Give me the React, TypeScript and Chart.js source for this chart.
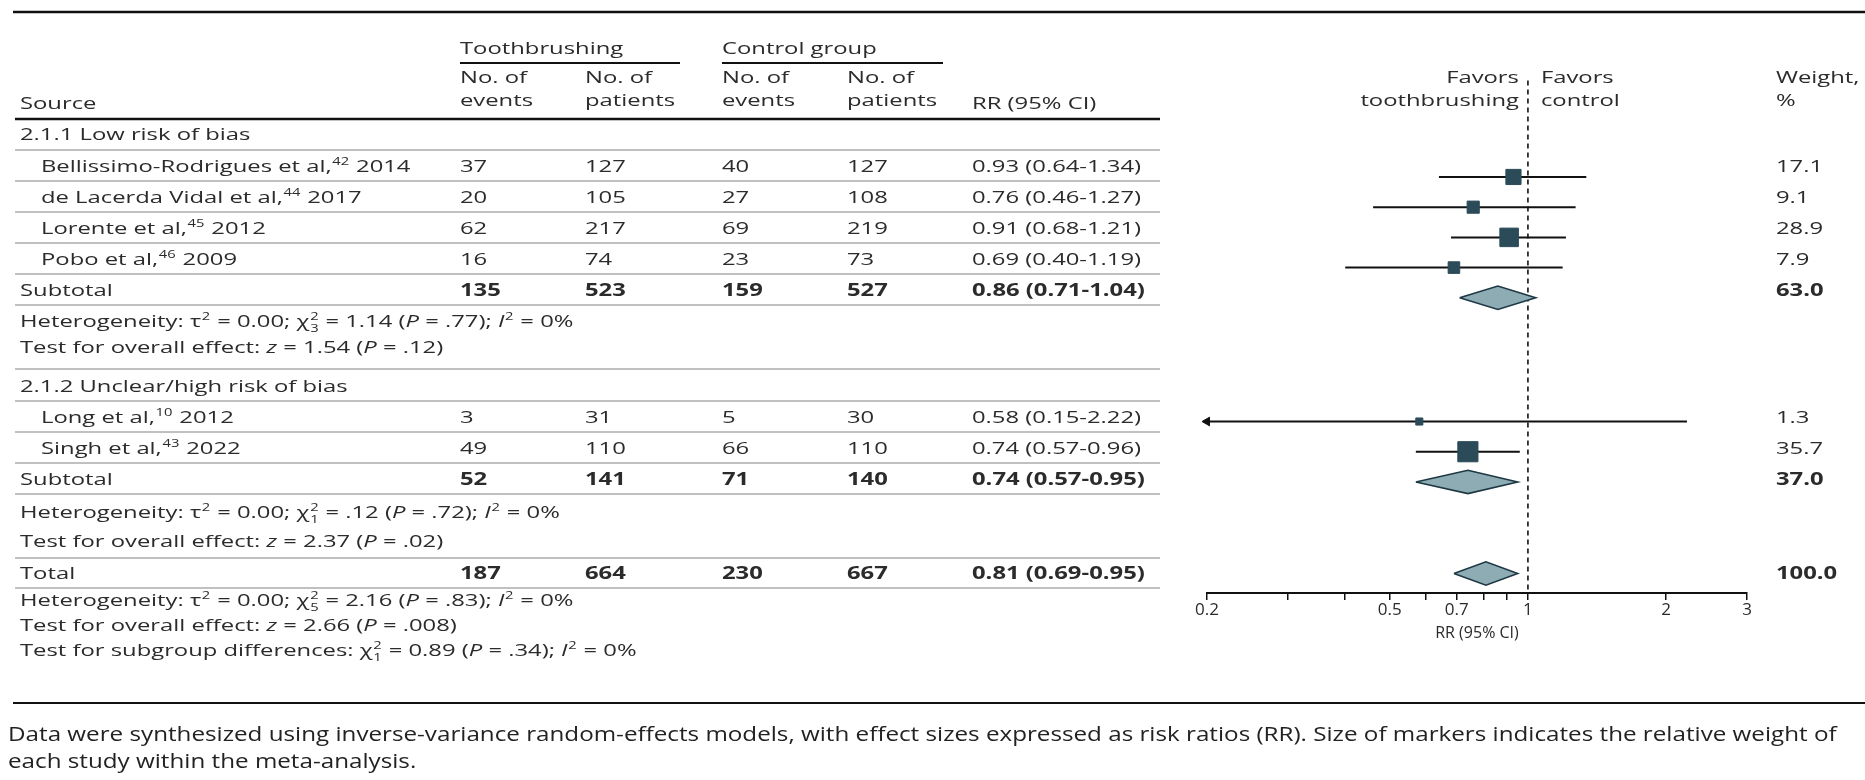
import { useEffect, useRef } from 'react';
import { Chart, registerables } from 'chart.js';

Chart.register(...registerables);

// ---------------- data ----------------
const STUDY_NAMES = ['Bellissimo-Rodrigues et al,', 'de Lacerda Vidal et al,', 'Lorente et al,', 'Pobo et al,', 'Long et al,', 'Singh et al,'];
const STUDY_REFS = ['42', '44', '45', '46', '10', '43'];
const STUDY_YEARS = ['2014', '2017', '2012', '2009', '2012', '2022'];
const STUDY_GROUP = [0, 0, 0, 0, 1, 1];
const TB_EVENTS = [37, 20, 62, 16, 3, 49];
const TB_TOTAL = [127, 105, 217, 74, 31, 110];
const CT_EVENTS = [40, 27, 69, 23, 5, 66];
const CT_TOTAL = [127, 108, 219, 73, 30, 110];
const RR = [0.93, 0.76, 0.91, 0.69, 0.58, 0.74];
const RR_LO = [0.64, 0.46, 0.68, 0.4, 0.15, 0.57];
const RR_HI = [1.34, 1.27, 1.21, 1.19, 2.22, 0.96];
const WEIGHTS = [17.1, 9.1, 28.9, 7.9, 1.3, 35.7];

const GROUP_LABELS = ['2.1.1 Low risk of bias', '2.1.2 Unclear/high risk of bias'];
const SUB_TB_EVENTS = [135, 52];
const SUB_TB_TOTAL = [523, 141];
const SUB_CT_EVENTS = [159, 71];
const SUB_CT_TOTAL = [527, 140];
const SUB_RR = [0.86, 0.74];
const SUB_LO = [0.71, 0.57];
const SUB_HI = [1.04, 0.95];
const SUB_WEIGHT = [63.0, 37.0];
const SUB_TAU2 = ['0.00', '0.00'];
const SUB_CHI2 = ['1.14', '.12'];
const SUB_DF = ['3', '1'];
const SUB_P_HET = ['.77', '.72'];
const SUB_I2 = ['0%', '0%'];
const SUB_Z = ['1.54', '2.37'];
const SUB_P = ['.12', '.02'];

const TOTAL_COUNTS = [187, 664, 230, 667];
const TOTAL_RR = [0.81, 0.69, 0.95];
const TOTAL_WEIGHT = 100.0;
const TOTAL_HET = { tau2: '0.00', chi2: '2.16', df: '5', p: '.83', i2: '0%' };
const TOTAL_TEST = { z: '2.66', p: '.008' };
const SUBGROUP_TEST = { chi2: '0.89', df: '1', p: '.34', i2: '0%' };

const AXIS_MIN = 0.2;
const AXIS_MAX = 3;
const AXIS_TICKS = [0.2, 0.3, 0.4, 0.5, 0.6, 0.7, 0.8, 0.9, 1, 2, 3];
const AXIS_LABELS = [0.2, 0.5, 0.7, 1, 2, 3];

const FOOTNOTE = [
  'Data were synthesized using inverse-variance random-effects models, with effect sizes expressed as risk ratios (RR). Size of markers indicates the relative weight of',
  'each study within the meta-analysis.',
];

// ---------------- style / layout ----------------
const W = 1865;
const H = 780;
const FONT_FAMILY = '"Open Sans", "Noto Sans", sans-serif';
const TABLE_PX = 17;
const NOTE_PX = 20;
const SX = 1.4;
const INK = '#2b2b2b';
const SQUARE = '#2c4b58';
const DIAMOND_FILL = '#8eacb4';
const DIAMOND_EDGE = '#1e3844';
const GRAY_LINE = '#ababab';

const PLOT_LEFT = 1207;
const PLOT_RIGHT = 1747;
const AXIS_Y = 593;
const REF_TOP = 67;
const DIAMOND_HALF = 12;

const LABEL_X = 20;
const INDENT_X = 41;
const COL_X = [460, 585, 722, 847];
const RR_X = 972;
const WEIGHT_X = 1776;
const TABLE_LEFT = 15;
const TABLE_RIGHT = 1160;
const HEADER_LINE_Y = 119;

type Row = { kind: string; idx: number; h: number; c: number; line: boolean; y: number; bottom: number };

function buildRows(): Row[] {
  const rows: Row[] = [];
  const add = (kind: string, idx: number, h: number, c: number, line: boolean) =>
    rows.push({ kind, idx, h, c, line, y: 0, bottom: 0 });
  GROUP_LABELS.forEach((_, g) => {
    add('group', g, g === 0 ? 31 : 32, g === 0 ? 15 : 17, true);
    STUDY_GROUP.forEach((sg, i) => {
      if (sg === g) add('study', i, 31, 16, true);
    });
    add('sub', g, 31, 16, true);
    add('het', g, g === 0 ? 28 : 32, g === 0 ? 16 : 18, false);
    add('test', g, g === 0 ? 36 : 32, g === 0 ? 14 : 15, true);
  });
  add('total', 0, 30, 15, true);
  add('hetT', 0, 24, 12, false);
  add('testT', 0, 25, 13, false);
  add('subgrp', 0, 24, 13, false);
  let top = HEADER_LINE_Y;
  for (const r of rows) {
    r.y = top + r.c;
    top += r.h;
    r.bottom = top;
  }
  return rows;
}
const ROWS = buildRows();
const rowY = (kind: string, idx: number) => ROWS.find((r) => r.kind === kind && r.idx === idx)!.y;

const markerSide = (w: number) => 4 + 2.7 * Math.sqrt(w);
const rrText = (e: number, l: number, h: number) => `${e.toFixed(2)} (${l.toFixed(2)}-${h.toFixed(2)})`;

// ---------------- rich text ----------------
type Seg = { t?: string; sup?: string; sub?: string; i?: boolean; b?: boolean };

function setFont(ctx: CanvasRenderingContext2D, px: number, bold: boolean, italic?: boolean) {
  ctx.font = `${italic ? 'italic ' : ''}${bold ? 'bold ' : ''}${px}px ${FONT_FAMILY}`;
}
function segWidth(ctx: CanvasRenderingContext2D, s: Seg, px: number, bold: boolean) {
  if (s.t !== undefined) {
    setFont(ctx, px, s.b ?? bold, s.i);
    return ctx.measureText(s.t).width;
  }
  setFont(ctx, px * 0.62, s.b ?? bold, false);
  const a = s.sup ? ctx.measureText(s.sup).width : 0;
  const b = s.sub ? ctx.measureText(s.sub).width : 0;
  return Math.max(a, b) + 1;
}
function drawRich(
  ctx: CanvasRenderingContext2D,
  segs: Seg[] | string,
  x: number,
  y: number,
  o: { px?: number; bold?: boolean; align?: 'left' | 'right'; color?: string; sx?: number } = {}
) {
  const list: Seg[] = typeof segs === 'string' ? [{ t: segs }] : segs;
  const px = o.px ?? TABLE_PX;
  const bold = !!o.bold;
  const sx = o.sx ?? SX;
  ctx.save();
  ctx.fillStyle = o.color ?? INK;
  ctx.textBaseline = 'alphabetic';
  ctx.textAlign = 'left';
  const total = list.reduce((w, s) => w + segWidth(ctx, s, px, bold), 0);
  ctx.translate(x - (o.align === 'right' ? total * sx : 0), y);
  ctx.scale(sx, 1);
  const base = px * 0.36;
  let cx = 0;
  for (const s of list) {
    const w = segWidth(ctx, s, px, bold);
    if (s.t !== undefined) {
      setFont(ctx, px, s.b ?? bold, s.i);
      ctx.fillText(s.t, cx, base);
    } else {
      setFont(ctx, px * 0.62, s.b ?? bold, false);
      if (s.sup) ctx.fillText(s.sup, cx + 0.5, base - px * 0.42);
      if (s.sub) ctx.fillText(s.sub, cx + 0.5, base + px * 0.3);
    }
    cx += w;
  }
  ctx.restore();
}

function hline(ctx: CanvasRenderingContext2D, x1: number, x2: number, y: number, color: string, lw: number) {
  ctx.save();
  ctx.strokeStyle = color;
  ctx.lineWidth = lw;
  ctx.beginPath();
  ctx.moveTo(x1, y);
  ctx.lineTo(x2, y);
  ctx.stroke();
  ctx.restore();
}

const hetSegs = (tau2: string, chi2: string, df: string, p: string, i2: string): Seg[] => [
  { t: 'Heterogeneity: τ' }, { sup: '2' }, { t: ` = ${tau2}; χ` }, { sup: '2', sub: df }, { t: ` = ${chi2} (` },
  { t: 'P', i: true }, { t: ` = ${p}); ` }, { t: 'I', i: true }, { sup: '2' }, { t: ` = ${i2}` },
];
const testSegs = (z: string, p: string): Seg[] => [
  { t: 'Test for overall effect: ' }, { t: 'z', i: true }, { t: ` = ${z} (` }, { t: 'P', i: true }, { t: ` = ${p})` },
];

const tablePlugin = {
  id: 'forestTable',
  afterDraw(chart: any) {
    const ctx: CanvasRenderingContext2D = chart.ctx;
    // frame lines
    hline(ctx, 13, W, 12, '#111', 2.5);
    hline(ctx, 13, W, 703, '#111', 2);
    // header
    drawRich(ctx, 'Toothbrushing', COL_X[0], 48);
    drawRich(ctx, 'Control group', COL_X[2], 48);
    hline(ctx, COL_X[0], 680, 63, '#111', 2);
    hline(ctx, COL_X[2], 943, 63, '#111', 2);
    ['events', 'patients', 'events', 'patients'].forEach((w, i) => {
      drawRich(ctx, 'No. of', COL_X[i], 77);
      drawRich(ctx, w, COL_X[i], 100);
    });
    drawRich(ctx, 'Source', LABEL_X, 103);
    drawRich(ctx, 'RR (95% CI)', RR_X, 103);
    const refX = chart.scales.x.getPixelForValue(1);
    drawRich(ctx, 'Favors', refX - 9, 77, { align: 'right' });
    drawRich(ctx, 'toothbrushing', refX - 9, 100, { align: 'right' });
    drawRich(ctx, 'Favors', refX + 13, 77);
    drawRich(ctx, 'control', refX + 13, 100);
    drawRich(ctx, 'Weight,', WEIGHT_X, 77);
    drawRich(ctx, '%', WEIGHT_X, 100);
    hline(ctx, TABLE_LEFT, TABLE_RIGHT, HEADER_LINE_Y, '#111', 2.5);

    for (const r of ROWS) {
      const y = r.y;
      if (r.kind === 'group') {
        drawRich(ctx, GROUP_LABELS[r.idx], LABEL_X, y);
      } else if (r.kind === 'study') {
        const i = r.idx;
        drawRich(ctx, [{ t: STUDY_NAMES[i] }, { sup: STUDY_REFS[i] }, { t: ' ' + STUDY_YEARS[i] }], INDENT_X, y);
        [TB_EVENTS[i], TB_TOTAL[i], CT_EVENTS[i], CT_TOTAL[i]].forEach((v, k) => drawRich(ctx, String(v), COL_X[k], y));
        drawRich(ctx, rrText(RR[i], RR_LO[i], RR_HI[i]), RR_X, y);
        drawRich(ctx, WEIGHTS[i].toFixed(1), WEIGHT_X, y);
      } else if (r.kind === 'sub') {
        const g = r.idx;
        drawRich(ctx, 'Subtotal', LABEL_X, y);
        [SUB_TB_EVENTS[g], SUB_TB_TOTAL[g], SUB_CT_EVENTS[g], SUB_CT_TOTAL[g]].forEach((v, k) =>
          drawRich(ctx, String(v), COL_X[k], y, { bold: true })
        );
        drawRich(ctx, rrText(SUB_RR[g], SUB_LO[g], SUB_HI[g]), RR_X, y, { bold: true });
        drawRich(ctx, SUB_WEIGHT[g].toFixed(1), WEIGHT_X, y, { bold: true });
      } else if (r.kind === 'het') {
        const g = r.idx;
        drawRich(ctx, hetSegs(SUB_TAU2[g], SUB_CHI2[g], SUB_DF[g], SUB_P_HET[g], SUB_I2[g]), LABEL_X, y);
      } else if (r.kind === 'test') {
        drawRich(ctx, testSegs(SUB_Z[r.idx], SUB_P[r.idx]), LABEL_X, y);
      } else if (r.kind === 'total') {
        drawRich(ctx, 'Total', LABEL_X, y);
        TOTAL_COUNTS.forEach((v, k) => drawRich(ctx, String(v), COL_X[k], y, { bold: true }));
        drawRich(ctx, rrText(TOTAL_RR[0], TOTAL_RR[1], TOTAL_RR[2]), RR_X, y, { bold: true });
        drawRich(ctx, TOTAL_WEIGHT.toFixed(1), WEIGHT_X, y, { bold: true });
      } else if (r.kind === 'hetT') {
        drawRich(ctx, hetSegs(TOTAL_HET.tau2, TOTAL_HET.chi2, TOTAL_HET.df, TOTAL_HET.p, TOTAL_HET.i2), LABEL_X, y);
      } else if (r.kind === 'testT') {
        drawRich(ctx, testSegs(TOTAL_TEST.z, TOTAL_TEST.p), LABEL_X, y);
      } else if (r.kind === 'subgrp') {
        drawRich(
          ctx,
          [
            { t: 'Test for subgroup differences: χ' }, { sup: '2', sub: SUBGROUP_TEST.df }, { t: ` = ${SUBGROUP_TEST.chi2} (` },
            { t: 'P', i: true }, { t: ` = ${SUBGROUP_TEST.p}); ` }, { t: 'I', i: true }, { sup: '2' }, { t: ` = ${SUBGROUP_TEST.i2}` },
          ],
          LABEL_X,
          y
        );
      }
      if (r.line) hline(ctx, TABLE_LEFT, TABLE_RIGHT, r.bottom, GRAY_LINE, 1.5);
    }
    FOOTNOTE.forEach((line, k) => drawRich(ctx, line, 8, 734 + k * 27, { px: NOTE_PX, sx: 1.21, color: '#222' }));
  },
};

export default function App() {
  const ref = useRef<HTMLCanvasElement | null>(null);
  useEffect(() => {
    if (!ref.current) return;
    const datasets: any[] = [];
    // study squares
    datasets.push({
      showLine: false,
      data: RR.map((v, i) => ({ x: v, y: rowY('study', i) })),
      pointStyle: 'rect',
      pointRadius: WEIGHTS.map((w) => markerSide(w) / Math.SQRT2),
      pointBackgroundColor: SQUARE,
      pointBorderColor: SQUARE,
      pointBorderWidth: 1,
      order: 0,
    });
    // arrows for CIs that run past the axis
    const arrows: any[] = [];
    RR.forEach((_, i) => {
      if (RR_LO[i] < AXIS_MIN) arrows.push({ x: AXIS_MIN, y: rowY('study', i), r: -90 });
      if (RR_HI[i] > AXIS_MAX) arrows.push({ x: AXIS_MAX, y: rowY('study', i), r: 90 });
    });
    datasets.push({
      showLine: false,
      data: arrows,
      pointStyle: 'triangle',
      pointRotation: arrows.map((a) => a.r),
      pointRadius: 5,
      pointBackgroundColor: '#111',
      pointBorderColor: '#111',
      pointBorderWidth: 1,
      order: 1,
    });
    // CI lines
    RR.forEach((_, i) => {
      const y = rowY('study', i);
      datasets.push({
        data: [
          { x: Math.max(RR_LO[i], AXIS_MIN), y },
          { x: Math.min(RR_HI[i], AXIS_MAX), y },
        ],
        borderColor: '#111',
        borderWidth: 2,
        pointRadius: 0,
        order: 2,
      });
    });
    // diamonds
    const diamonds = [
      ...SUB_RR.map((e, g) => ({ e, l: SUB_LO[g], h: SUB_HI[g], y: rowY('sub', g) })),
      { e: TOTAL_RR[0], l: TOTAL_RR[1], h: TOTAL_RR[2], y: rowY('total', 0) },
    ];
    diamonds.forEach((d) => {
      datasets.push({
        data: [
          { x: d.l, y: d.y },
          { x: d.e, y: d.y - DIAMOND_HALF },
          { x: d.h, y: d.y },
          { x: d.e, y: d.y + DIAMOND_HALF },
          { x: d.l, y: d.y },
        ],
        borderColor: DIAMOND_EDGE,
        borderWidth: 1.6,
        backgroundColor: DIAMOND_FILL,
        fill: 'shape',
        pointRadius: 0,
        order: 1,
      });
    });
    // null-effect reference line
    datasets.push({
      data: [
        { x: 1, y: REF_TOP },
        { x: 1, y: AXIS_Y },
      ],
      borderColor: '#111',
      borderWidth: 1.6,
      borderDash: [5, 4],
      pointRadius: 0,
      order: 5,
    });

    const chart = new Chart(ref.current, {
      type: 'line',
      data: { datasets },
      plugins: [tablePlugin],
      options: {
        animation: false,
        responsive: false,
        devicePixelRatio: 1,
        events: [],
        layout: { padding: { left: PLOT_LEFT, right: W - PLOT_RIGHT, top: 0, bottom: 0 } },
        datasets: { line: { clip: false, tension: 0 } } as any,
        plugins: { legend: { display: false }, tooltip: { enabled: false } },
        scales: {
          x: {
            type: 'logarithmic',
            min: AXIS_MIN,
            max: AXIS_MAX,
            afterBuildTicks: (s: any) => {
              s.ticks = AXIS_TICKS.map((v) => ({ value: v }));
            },
            afterFit: (s: any) => {
              s.height = H - AXIS_Y;
            },
            ticks: {
              autoSkip: false,
              maxRotation: 0,
              padding: 0,
              color: INK,
              font: { family: FONT_FAMILY, size: 17 },
              callback: (v: any) => (AXIS_LABELS.some((l) => Math.abs(l - Number(v)) < 1e-9) ? String(Number(v)) : ''),
            },
            grid: { drawOnChartArea: false, drawTicks: true, tickLength: 7, color: '#111', lineWidth: 1.5 },
            border: { display: true, color: '#111', width: 2 },
            title: {
              display: true,
              text: 'RR (95% CI)',
              color: INK,
              font: { family: FONT_FAMILY, size: 16 },
              padding: { top: 0, bottom: 137 },
            },
          },
          y: { type: 'linear', display: false, min: 0, max: AXIS_Y, reverse: true },
        },
      } as any,
    });
    return () => chart.destroy();
  }, []);
  return (
    <div style={{ position: 'fixed', left: 0, top: 0, width: W, height: H, background: '#fff' }}>
      <canvas ref={ref} width={W} height={H} style={{ display: 'block', width: W, height: H }} />
    </div>
  );
}
